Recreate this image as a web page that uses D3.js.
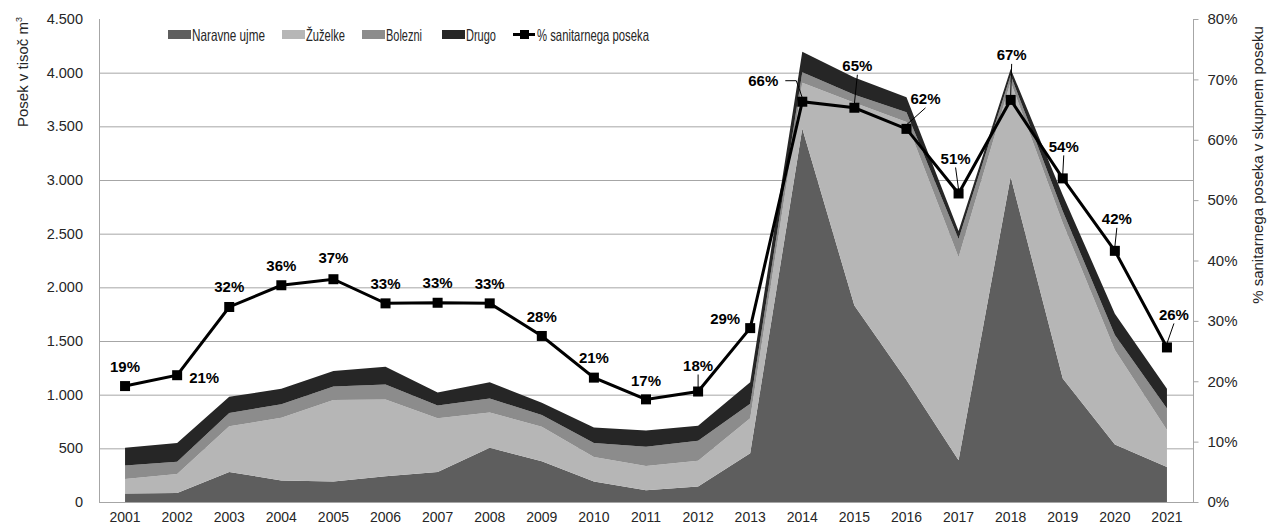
<!DOCTYPE html>
<html>
<head>
<meta charset="utf-8">
<script src="https://cdn.jsdelivr.net/npm/d3@7"></script>
<style>
  html, body { margin: 0; padding: 0; background: #fff; }
  svg { display: block; font-family: "Liberation Sans", Arial, sans-serif; }
</style>
</head>
<body>
<svg id="chart" width="1267" height="526"></svg>
<script>
// ---- data ----
const years = ["2001","2002","2003","2004","2005","2006","2007","2008","2009","2010","2011","2012","2013","2014","2015","2016","2017","2018","2019","2020","2021"];
const naravneUjme = [80, 85, 280, 200, 190, 240, 280, 505, 380, 190, 110, 145, 455, 3480, 1830, 1136, 390, 3030, 1150, 535, 325];
const zuzelke     = [135, 175, 425, 585, 760, 715, 500, 330, 320, 230, 225, 240, 325, 425, 1890, 2405, 1890, 885, 1450, 880, 345];
const bolezni     = [125, 115, 125, 125, 125, 140, 120, 130, 110, 130, 180, 185, 135, 100, 75, 90, 170, 60, 110, 140, 200];
const drugo       = [165, 175, 150, 145, 145, 165, 120, 150, 115, 145, 150, 140, 200, 190, 160, 140, 75, 60, 150, 200, 185];
const sanitarniDelez = [19.2, 21.0, 32.3, 35.9, 36.9, 32.9, 33.0, 32.9, 27.5, 20.6, 17.0, 18.3, 28.8, 66.3, 65.3, 61.8, 51.1, 66.6, 53.6, 41.6, 25.6];
const seriesNames = ["Naravne ujme", "Žuželke", "Bolezni", "Drugo"];
const lineName = "% sanitarnega poseka";
const leftTicks = [0, 500, 1000, 1500, 2000, 2500, 3000, 3500, 4000, 4500];
const rightTicks = [0, 10, 20, 30, 40, 50, 60, 70, 80];
const leftTitle = "Posek v tisoč m";
const rightTitle = "% sanitarnega poseka v skupnem poseku";

// ---- layout (label placement relative to points) ----
const labelOffsets = [
  [0,-20,0],[27,2,0],[0,-20,0],[0,-20,0],[0,-22,0],[0,-20,0],[0,-20,0],[0,-20,0],[0,-19,0],[0,-20,0],[0,-19,0],
  [0,-26,1],[-25,-10,0],[-39,-21,2],[3,-42,1],[19,-30,1],[-3,-35,1],[1,-45,1],[1,-32,1],[2,-32,1],[7,-33,1]
];
const colors = ["#5e5e5e", "#b6b6b6", "#8c8c8c", "#262626"];

const svg = d3.select("#chart");
const M = { left: 99, right: 1193, top: 19, bottom: 502 };

const x = d3.scaleBand().domain(years).range([M.left, M.right]).padding(0);
const cx = d => x(d) + x.bandwidth() / 2;
const yL = d3.scaleLinear().domain([0, 4500]).range([M.bottom, M.top]);
const yR = d3.scaleLinear().domain([0, 80]).range([M.bottom, M.top]);

const fmtL = d3.formatLocale({ decimal: ",", thousands: ".", grouping: [3], currency: ["", "€"] }).format(",d");

// gridlines
svg.append("g").selectAll("line").data(leftTicks.filter(t => t > 0 && t < 4500)).join("line")
  .attr("x1", M.left).attr("x2", M.right)
  .attr("y1", d => yL(d) + 0.5).attr("y2", d => yL(d) + 0.5)
  .attr("stroke", "#a6a6a6").attr("stroke-width", 1);

// stacked areas
const rows = years.map((yr, i) => ({ year: yr, n: naravneUjme[i], z: zuzelke[i], b: bolezni[i], d: drugo[i] }));
const stack = d3.stack().keys(["n", "z", "b", "d"]);
const stacked = stack(rows);
const area = d3.area().x(d => cx(d.data.year)).y0(d => yL(d[0])).y1(d => yL(d[1]));
svg.append("g").selectAll("path").data(stacked).join("path")
  .attr("d", area).attr("fill", (d, i) => colors[i]);

// axes
const axisColor = "#a6a6a6";
svg.append("line").attr("x1", M.left + 0.5).attr("x2", M.left + 0.5).attr("y1", M.top).attr("y2", M.bottom).attr("stroke", axisColor);
svg.append("line").attr("x1", M.right + 0.5).attr("x2", M.right + 0.5).attr("y1", M.top).attr("y2", M.bottom).attr("stroke", axisColor);
svg.append("line").attr("x1", M.left).attr("x2", M.right + 1).attr("y1", M.bottom + 0.5).attr("y2", M.bottom + 0.5).attr("stroke", axisColor);

const gL = svg.append("g").attr("transform", `translate(${M.left},0)`)
  .call(d3.axisLeft(yL).tickValues(leftTicks).tickSize(0).tickPadding(16).tickFormat(fmtL));
gL.select(".domain").remove();
gL.selectAll("text").attr("font-size", 14.5).attr("fill", "#262626").attr("font-family", "Liberation Sans, Arial, sans-serif");

const gR = svg.append("g").attr("transform", `translate(${M.right + 0.5},0)`)
  .call(d3.axisRight(yR).tickValues(rightTicks).tickSize(5).tickPadding(9).tickFormat(d => d + "%"));
gR.select(".domain").remove();
gR.selectAll("line").attr("stroke", axisColor);
gR.selectAll("text").attr("font-size", 15).attr("fill", "#262626").attr("font-family", "Liberation Sans, Arial, sans-serif");

const gX = svg.append("g").attr("transform", `translate(0,${M.bottom})`)
  .call(d3.axisBottom(x).tickSize(0).tickPadding(10));
gX.select(".domain").remove();
gX.selectAll("text").attr("font-size", 14).attr("fill", "#262626").attr("font-family", "Liberation Sans, Arial, sans-serif");

// axis titles
const lt = svg.append("text").attr("transform", "translate(28,72) rotate(-90)")
  .attr("text-anchor", "middle").attr("font-size", 15).attr("fill", "#262626");
lt.append("tspan").text(leftTitle);
lt.append("tspan").attr("font-size", 9).attr("dy", -6).text("3");

svg.append("text").attr("transform", "translate(1263,165) rotate(-90)")
  .attr("text-anchor", "middle").attr("font-size", 15).attr("fill", "#262626").text(rightTitle);

// line series
const line = d3.line().x((d, i) => cx(years[i])).y(d => yR(d));
svg.append("path").datum(sanitarniDelez).attr("d", line)
  .attr("fill", "none").attr("stroke", "#000").attr("stroke-width", 3).attr("stroke-linejoin", "miter");
svg.append("g").selectAll("rect").data(sanitarniDelez).join("rect")
  .attr("x", (d, i) => cx(years[i]) - 5).attr("y", d => yR(d) - 5)
  .attr("width", 10).attr("height", 10).attr("fill", "#000");

// data labels + leaders
const lab = svg.append("g");
sanitarniDelez.forEach((v, i) => {
  const px = cx(years[i]), py = yR(v);
  const [dx, dy, leader] = labelOffsets[i];
  const tx = px + dx, ty = py + dy;
  lab.append("text").attr("x", tx).attr("y", ty + 5.5).attr("text-anchor", "middle")
    .attr("font-size", 15).attr("font-weight", "bold").attr("fill", "#000").text(Math.round(v) + "%");
  if (leader === 1) {
    lab.append("line").attr("x1", tx).attr("y1", ty + 9).attr("x2", px).attr("y2", py - 4)
      .attr("stroke", "#000").attr("stroke-width", 1);
  } else if (leader === 2) {
    lab.append("path").attr("d", `M${tx + 22},${ty} L${tx + 33},${ty} L${px},${py - 4}`)
      .attr("fill", "none").attr("stroke", "#000").attr("stroke-width", 1);
  }
});

// legend (condensed text fitted to the reference widths)
const lg = svg.append("g").attr("font-family", "Liberation Sans, Arial, sans-serif").attr("font-size", 16.5);
const swX = [168, 282, 362, 442];
const txtW = [73, 39, 36, 30];
seriesNames.forEach((n, i) => {
  lg.append("rect").attr("x", swX[i]).attr("y", 30).attr("width", 23).attr("height", 9).attr("fill", colors[i]);
  lg.append("text").attr("x", swX[i] + 24).attr("y", 40.5).attr("fill", "#262626")
    .attr("textLength", txtW[i]).attr("lengthAdjust", "spacingAndGlyphs").text(n);
});
lg.append("line").attr("x1", 513).attr("x2", 535).attr("y1", 34.5).attr("y2", 34.5).attr("stroke", "#000").attr("stroke-width", 3);
lg.append("rect").attr("x", 520).attr("y", 30).attr("width", 9).attr("height", 9).attr("fill", "#000");
lg.append("text").attr("x", 537).attr("y", 40.5).attr("fill", "#262626")
  .attr("textLength", 112).attr("lengthAdjust", "spacingAndGlyphs").text(lineName);
</script>
</body>
</html>
